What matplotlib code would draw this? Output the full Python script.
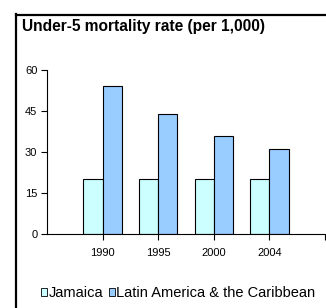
import matplotlib
matplotlib.use("Agg")
import matplotlib.pyplot as plt
import numpy as np
from matplotlib.patches import Rectangle
from matplotlib.lines import Line2D

years = ["1990", "1995", "2000", "2004"]
jamaica = [20, 20, 20, 20]
lac = [54, 44, 36, 31]
series_names = ["Jamaica", "Latin America & the Caribbean"]
yticks = [0, 15, 30, 45, 60]

plt.rcParams['font.family'] = ['Liberation Sans', 'DejaVu Sans']

W, H = 326, 308
fig = plt.figure(figsize=(W/100, H/100), dpi=100)
ax = fig.add_axes([47/W, 1-234/H, (325-47)/W, (234-70)/H])

x = np.arange(len(years))
bw = 0.345
ax.bar(x - bw/2, jamaica, bw, color="#CCFFFF", edgecolor="black", linewidth=0.8, label=series_names[0])
ax.bar(x + bw/2, lac, bw, color="#99CCFF", edgecolor="black", linewidth=0.8, label=series_names[1])

ax.set_xlim(-1, 4)
ax.set_ylim(0, 60)
ax.set_yticks(yticks)
ax.set_yticklabels([str(v) for v in yticks], fontsize=8)
ax.set_xticks(list(x) + [4])
ax.set_xticklabels(years + [""], fontsize=8)
ax.tick_params(axis='both', direction='out', length=4, width=0.8, pad=3)
ax.tick_params(axis='x', pad=6)
for s in ["top", "right"]:
    ax.spines[s].set_visible(False)
for s in ["left", "bottom"]:
    ax.spines[s].set_linewidth(0.8)

fig.text(22/W, 1-27/H, "Under-5 mortality rate (per 1,000)", fontsize=11.2, fontweight="bold", va="center", ha="left")

# outer frame (left and top edges visible)
fig.add_artist(Line2D([16/W, 16/W], [0, 1-14/H], transform=fig.transFigure, color="black", linewidth=1.6))
fig.add_artist(Line2D([16/W, 1.0], [1-14.5/H, 1-14.5/H], transform=fig.transFigure, color="black", linewidth=1.6))

handles = [Rectangle((0, 0), 1, 1, facecolor="#CCFFFF", edgecolor="black", linewidth=0.6),
           Rectangle((0, 0), 1, 1, facecolor="#99CCFF", edgecolor="black", linewidth=0.6)]
fig.legend(handles, series_names, loc="center left", bbox_to_anchor=(41/W, 1-293/H),
           ncol=2, frameon=False, fontsize=10.5, handlelength=0.42, handleheight=0.42,
           handletextpad=0.08, columnspacing=0.4, borderpad=0, borderaxespad=0)

fig.savefig("out.png", dpi=100)
